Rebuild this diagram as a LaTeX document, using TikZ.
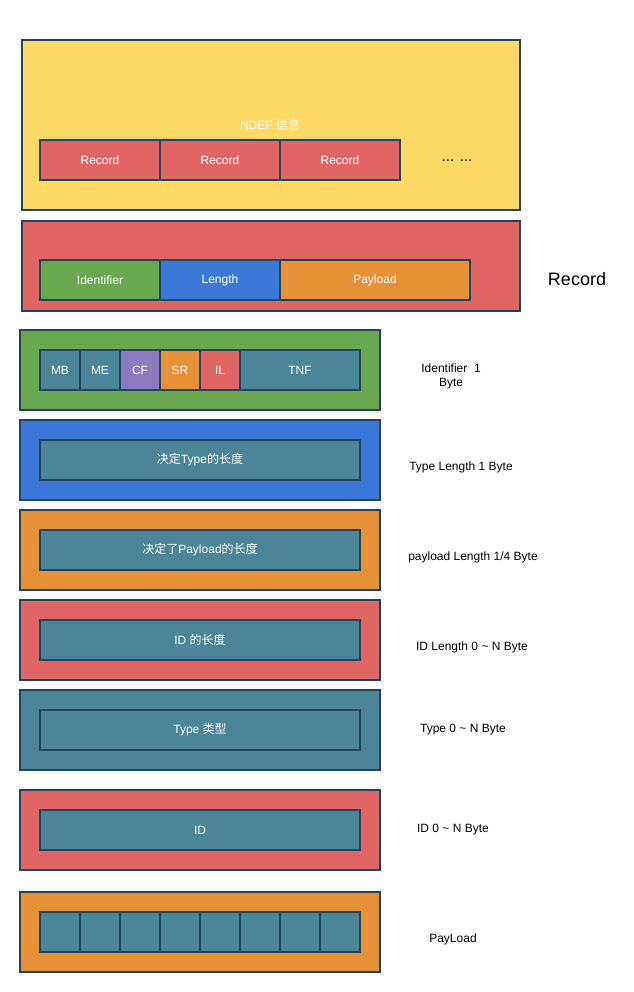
\documentclass[tikz,border=0pt]{standalone}
\usepackage{fontspec}
\setmainfont{Liberation Sans}
\newfontfamily\cjk{Noto Sans CJK SC}
\usetikzlibrary{positioning}
\definecolor{edge}{RGB}{35,68,93}
\definecolor{ndefyellow}{RGB}{255,217,102}
\definecolor{recred}{RGB}{224,102,102}
\definecolor{idgreen}{RGB}{106,168,79}
\definecolor{lenblue}{RGB}{60,120,216}
\definecolor{payorange}{RGB}{230,145,56}
\definecolor{bitteal}{RGB}{74,134,152}
\definecolor{bitpurple}{RGB}{142,124,195}
\tikzset{
  frame/.style={draw=edge,line width=2pt,inner sep=0pt,outer sep=0pt,anchor=north west},
  cell/.style={draw=edge,line width=2pt,inner sep=0pt,outer sep=0pt,anchor=north west,
    minimum height=40pt,text=white,font=\fontsize{12}{14}\selectfont},
  side/.style={font=\fontsize{12}{14}\selectfont,align=center}
}

\begin{document}
\begin{tikzpicture}[x=1pt,y=-1pt]
\useasboundingbox (0,0) rectangle (633,992);
% NDEF message
\node[frame,fill=ndefyellow,minimum width=498pt,minimum height=170pt] (ndef) at (22,40) {};
\node[side,text=white] (ndeftitle) at (270,125) {NDEF {\cjk 信息}};
\node[cell,fill=recred,minimum width=120pt] (rec1) at (40,140) {Record};
\node[cell,fill=recred,minimum width=120pt,right=0pt of rec1] (rec2) {Record};
\node[cell,fill=recred,minimum width=120pt,right=0pt of rec2] (rec3) {Record};
\node[font=\fontsize{15}{17}\selectfont] (more) at (457,161) {... ...};
% Record
\node[frame,fill=recred,minimum width=498pt,minimum height=90pt] (record) at (22,221) {};
\node[cell,fill=idgreen,minimum width=120pt] (ident) at (40,260) {Identifier};
\node[cell,fill=lenblue,minimum width=120pt,right=0pt of ident] (len) {Length};
\node[cell,fill=payorange,minimum width=190pt,right=0pt of len] (pay) {Payload};
\node[font=\fontsize{18}{20}\selectfont] (recname) at (577,279) {Record};
% Identifier byte
\node[frame,fill=idgreen,minimum width=360pt,minimum height=80pt] (identrow) at (20,330) {};
\foreach \n/\x/\w/\c in {MB/40/40/bitteal,ME/80/40/bitteal,CF/120/40/bitpurple,
  SR/160/40/payorange,IL/200/40/recred,TNF/240/120/bitteal}
  \node[cell,fill=\c,minimum width=\w pt] (bit\n) at (\x,350) {\n};
\node[side] (identnote) at (451,376) {Identifier\ \ 1\\Byte};
% length, type and id fields
\foreach \y/\c/\t/\l/\lx/\ly [count=\i] in {
  420/lenblue/{{\cjk 决定}Type{\cjk 的长度}}/{Type Length 1 Byte}/461/467,
  510/payorange/{{\cjk 决定了}Payload{\cjk 的长度}}/{payload Length 1/4 Byte}/473/557,
  600/recred/{ID {\cjk 的长度}}/{ID Length 0 \textasciitilde{} N Byte}/472/647,
  690/bitteal/{Type {\cjk 类型}}/{Type 0 \textasciitilde{} N Byte}/463/730,
  790/recred/ID/{ID 0 \textasciitilde{} N Byte}/453/830}{
  \node[frame,fill=\c,minimum width=360pt,minimum height=80pt] (row\i) at (20,\y) {};
  \node[cell,fill=bitteal,minimum width=320pt] (field\i) at (40,\y+20) {\t};
  \node[side] (note\i) at (\lx,\ly) {\l};
}
% payload bytes
\node[frame,fill=payorange,minimum width=360pt,minimum height=80pt] (payrow) at (20,892) {};
\foreach \k in {0,...,7}
  \node[cell,fill=bitteal,minimum width=40pt] (byte\k) at ({40+40*\k},912) {};
\node[side] (paynote) at (453,939) {PayLoad};
\end{tikzpicture}
\end{document}
